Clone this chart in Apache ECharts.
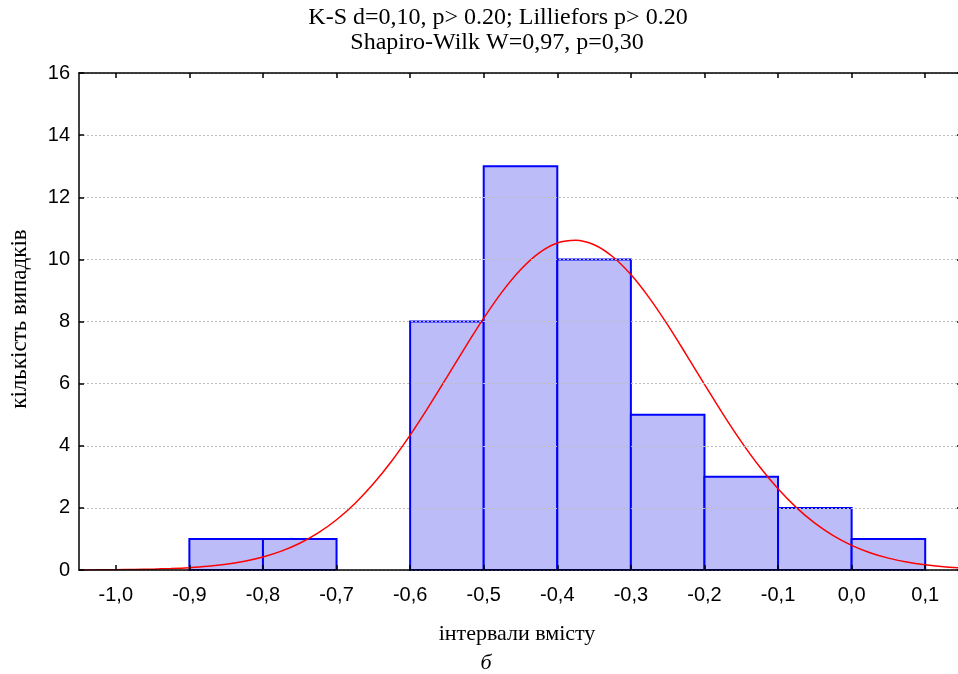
<!DOCTYPE html>
<html>
<head>
<meta charset="utf-8">
<script src="https://cdn.jsdelivr.net/npm/echarts@6/dist/echarts.min.js"></script>
<style>
html,body{margin:0;padding:0;background:#fff;}
#chart{width:958px;height:674px;}
</style>
</head>
<body>
<div id="chart"></div>
<script>
// Histogram bins (left edge, right edge) and counts
var binStart = [-0.9, -0.8, -0.7, -0.6, -0.5, -0.4, -0.3, -0.2, -0.1, 0.0];
var binEnd   = [-0.8, -0.7, -0.6, -0.5, -0.4, -0.3, -0.2, -0.1, 0.0, 0.1];
var counts   = [1, 1, 0, 8, 13, 10, 5, 3, 2, 1];

// Fitted normal curve
var curveX = [-1.05, -1.025, -1.0, -0.975, -0.95, -0.925, -0.9, -0.875, -0.85, -0.825,
              -0.8, -0.775, -0.75, -0.725, -0.7, -0.675, -0.65, -0.625, -0.6, -0.575,
              -0.55, -0.525, -0.5, -0.475, -0.45, -0.425, -0.4, -0.375, -0.35, -0.325,
              -0.3, -0.275, -0.25, -0.225, -0.2, -0.175, -0.15, -0.125, -0.1, -0.075,
              -0.05, -0.025, 0.0, 0.025, 0.05, 0.075, 0.1, 0.125, 0.15];
var curveY = [0.003, 0.005, 0.010, 0.017, 0.028, 0.047, 0.076, 0.120, 0.187, 0.283,
              0.420, 0.608, 0.862, 1.194, 1.618, 2.143, 2.775, 3.510, 4.342, 5.252,
              6.209, 7.176, 8.106, 8.954, 9.667, 10.203, 10.528, 10.618, 10.470, 10.092,
              9.510, 8.760, 7.889, 6.944, 5.977, 5.029, 4.135, 3.324, 2.612, 2.007,
              1.508, 1.108, 0.795, 0.558, 0.383, 0.256, 0.168, 0.108, 0.068];

// Axis ticks
var xTicks = [-1.0, -0.9, -0.8, -0.7, -0.6, -0.5, -0.4, -0.3, -0.2, -0.1, 0.0, 0.1];
var xTickLabels = ['-1,0', '-0,9', '-0,8', '-0,7', '-0,6', '-0,5', '-0,4', '-0,3', '-0,2', '-0,1', '0,0', '0,1'];
var yTicks = [0, 2, 4, 6, 8, 10, 12, 14, 16];

var titleLine1 = 'K-S d=0,10, p> 0.20; Lilliefors p> 0.20';
var titleLine2 = 'Shapiro-Wilk W=0,97, p=0,30';
var xName = 'інтервали вмісту';
var yName = 'кількість випадків';
var caption = 'б';

var chart = echarts.init(document.getElementById('chart'), null, {renderer: 'canvas'});

var histData = binStart.map(function (s, i) { return [s, binEnd[i], counts[i]]; });
var curveData = curveX.map(function (x, i) { return [x, curveY[i]]; });

function fmtX(v) {
  var idx = -1;
  for (var i = 0; i < xTicks.length; i++) { if (Math.abs(xTicks[i] - v) < 1e-6) idx = i; }
  return idx >= 0 ? xTickLabels[idx] : '';
}

var serif = '"Liberation Serif", "Times New Roman", serif';
var sans = '"Liberation Sans", Arial, sans-serif';

var option = {
  animation: false,
  backgroundColor: '#ffffff',
  grid: {left: 79, top: 73, width: 883, height: 497, containLabel: false, outerBoundsMode: 'none'},
  graphic: [
    {type: 'text', x: 498, y: 6, style: {text: titleLine1, font: '24px ' + serif, fill: '#000', textAlign: 'center', textVerticalAlign: 'top'}},
    {type: 'text', x: 497, y: 31, style: {text: titleLine2, font: '24px ' + serif, fill: '#000', textAlign: 'center', textVerticalAlign: 'top'}},
    {type: 'text', x: 517, y: 623, style: {text: xName, font: '22px ' + serif, fill: '#000', textAlign: 'center', textVerticalAlign: 'top'}},
    {type: 'text', x: 486, y: 652, style: {text: caption, font: 'italic 22px ' + serif, fill: '#000', textAlign: 'center', textVerticalAlign: 'top'}},
    {type: 'text', x: 20, y: 319, rotation: Math.PI / 2, style: {text: yName, font: '23px ' + serif, fill: '#000', textAlign: 'center', textVerticalAlign: 'middle'}}
  ],
  xAxis: [
    {
      type: 'value', position: 'bottom', min: -1.05, max: 0.15, z: 5,
      axisLine: {show: true, onZero: false, lineStyle: {color: '#000', width: 1.5}},
      axisTick: {show: true, inside: true, length: 5, customValues: xTicks, lineStyle: {color: '#000', width: 1.5}},
      axisLabel: {show: true, customValues: xTicks, formatter: fmtX, margin: 15, color: '#000', fontSize: 20, fontFamily: sans},
      splitLine: {show: false}
    },
    {
      type: 'value', position: 'top', min: -1.05, max: 0.15, z: 5,
      axisLine: {show: true, onZero: false, lineStyle: {color: '#000', width: 1.5}},
      axisTick: {show: true, inside: true, length: 5, customValues: xTicks, lineStyle: {color: '#000', width: 1.5}},
      axisLabel: {show: false},
      splitLine: {show: false}
    }
  ],
  yAxis: [
    {
      type: 'value', position: 'left', min: 0, max: 16, interval: 2, z: 5,
      axisLine: {show: true, onZero: false, lineStyle: {color: '#000', width: 1.5}},
      axisTick: {show: true, inside: true, length: 5, lineStyle: {color: '#000', width: 1.5}},
      axisLabel: {show: true, margin: 9, color: '#000', fontSize: 20, fontFamily: sans},
      splitLine: {show: true, lineStyle: {color: '#bcbcbc', width: 1, type: [2, 2]}}
    },
    {
      type: 'value', position: 'right', min: 0, max: 16, interval: 2, z: 5,
      axisLine: {show: true, onZero: false, lineStyle: {color: '#000', width: 1.5}},
      axisTick: {show: true, inside: true, length: 5, lineStyle: {color: '#000', width: 1.5}},
      axisLabel: {show: false},
      splitLine: {show: false}
    }
  ],
  series: [
    {
      type: 'custom',
      xAxisIndex: 0, yAxisIndex: 0,
      data: histData,
      encode: {x: [0, 1], y: 2},
      z: 2,
      renderItem: function (params, api) {
        var v = api.value(2);
        if (!(v > 0)) return null;
        var p0 = api.coord([api.value(0), v]);
        var p1 = api.coord([api.value(1), 0]);
        return {
          type: 'rect',
          shape: {x: p0[0], y: p0[1], width: p1[0] - p0[0], height: p1[1] - p0[1]},
          style: {fill: '#bcbcf8', stroke: '#0000ff', lineWidth: 2}
        };
      }
    },
    {
      type: 'line',
      xAxisIndex: 0, yAxisIndex: 0,
      data: curveData,
      smooth: 0.3,
      showSymbol: false,
      symbol: 'none',
      z: 3,
      lineStyle: {color: '#ff0000', width: 1.5}
    }
  ]
};
chart.setOption(option);
</script>
</body>
</html>
